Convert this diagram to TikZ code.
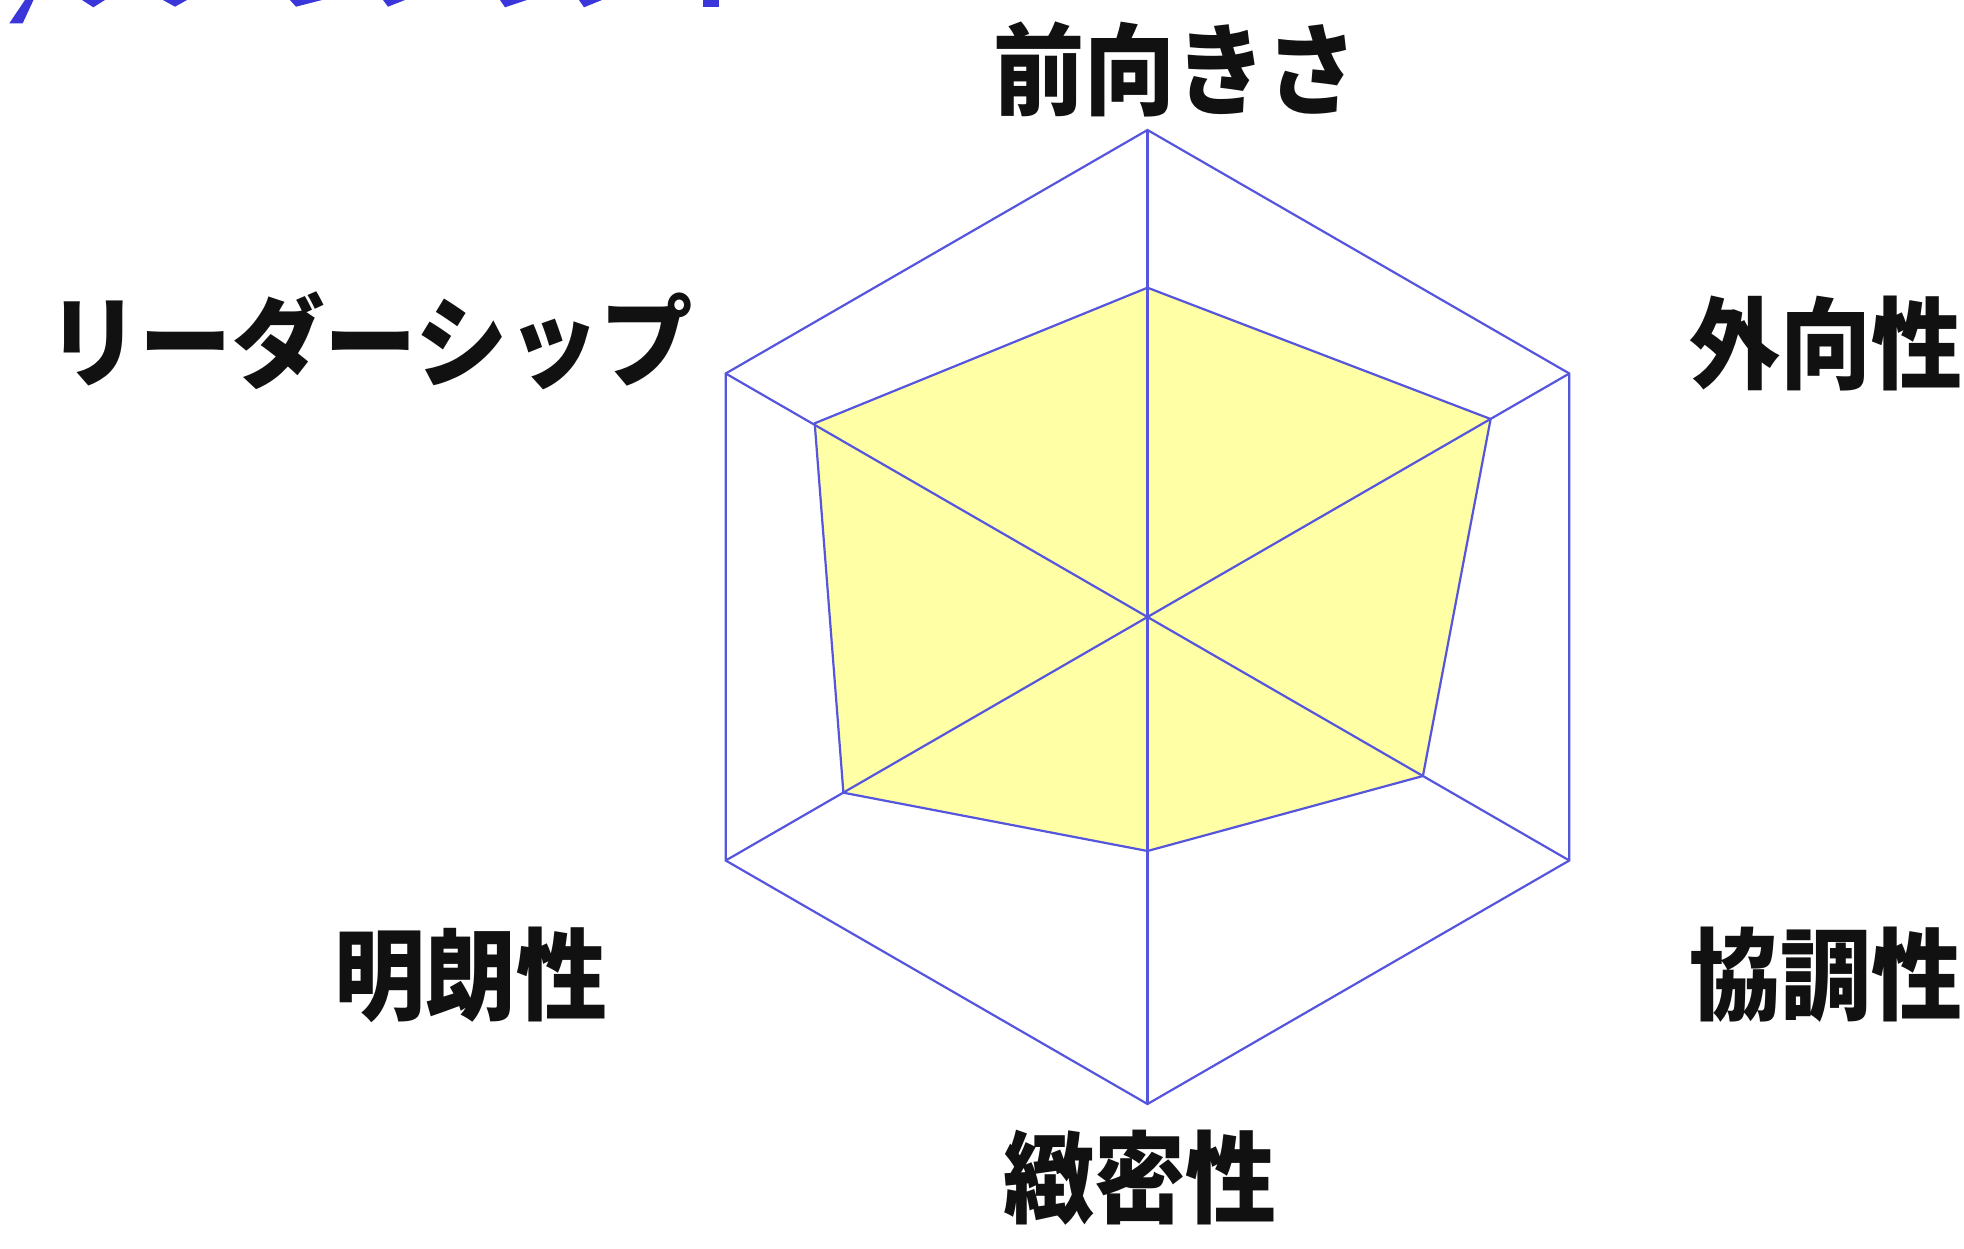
\documentclass[tikz,border=0pt]{standalone}
\usepackage{fontspec}
\newfontfamily\jpfont{Noto Sans CJK JP Black}
\definecolor{gridblue}{HTML}{5555DD}
\definecolor{titleblue}{HTML}{3B36D9}
\definecolor{fillyellow}{HTML}{FFFFA5}
\definecolor{labelblack}{HTML}{111111}
\newcommand{\narrowtext}[2][0.91]{\scalebox{#1}[1]{#2}}
\tikzset{
  axislabel/.style={inner sep=0pt, outer sep=0pt, text=labelblack,
    font=\jpfont\fontsize{100}{100}\selectfont},
  gridline/.style={draw=gridblue, line width=2.2pt, line join=miter},
  datafill/.style={fill=fillyellow},
  titlefrag/.style={fill=titleblue}
}
\begin{document}
\begin{tikzpicture}[x=1pt,y=-1pt]
\useasboundingbox (0,0) rectangle (1964,1249);
% centre and hexagon vertices
\coordinate (C) at (1147.5,617);
\coordinate (V0) at (1147.5,130);
\coordinate (V1) at (1569.3,373.5);
\coordinate (V2) at (1569.3,860.5);
\coordinate (V3) at (1147.5,1104);
\coordinate (V4) at (725.7,860.5);
\coordinate (V5) at (725.7,373.5);
% data points
\coordinate (D0) at (1147.5,287.7);
\coordinate (D1) at (1490.6,419);
\coordinate (D2) at (1422.9,776);
\coordinate (D3) at (1147.5,851);
\coordinate (D4) at (843.4,792.7);
\coordinate (D5) at (814.7,423.3);
% data area
\fill[datafill] (D0) -- (D1) -- (D2) -- (D3) -- (D4) -- (D5) -- cycle;
% grid
\draw[gridline] (V0) -- (V1) -- (V2) -- (V3) -- (V4) -- (V5) -- cycle;
\draw[gridline] (V0) -- (V3);
\draw[gridline] (V1) -- (V4);
\draw[gridline] (V2) -- (V5);
\draw[gridline] (D0) -- (D1) -- (D2) -- (D3) -- (D4) -- (D5) -- cycle;
% labels
\node[axislabel] (l0) at (1175,69) {\narrowtext{前向きさ}};
\node[axislabel] (l1) at (1826,343.5) {\narrowtext{外向性}};
\node[axislabel] (l2) at (1826,975) {\narrowtext{協調性}};
\node[axislabel] (l3) at (1140,1177.5) {\narrowtext{緻密性}};
\node[axislabel] (l4) at (471,975) {\narrowtext{明朗性}};
\node[axislabel] (l5) at (370,340.5) {\narrowtext[0.925]{リーダーシップ}};
% cropped title fragments at the top edge
\fill[titlefrag] (25,0) -- (33.5,0) -- (22.7,23.3) -- (9.3,23.3) -- cycle;
\fill[titlefrag] (82,0) -- (105,0) -- (93.3,7.3) -- cycle;
\fill[titlefrag] (163,0) -- (187,0) -- (175,6.7) -- cycle;
\fill[titlefrag] (290,0) -- (322,0) -- (296,6.7) -- cycle;
\fill[titlefrag] (383,0) -- (405,0) -- (388,6.7) -- cycle;
\fill[titlefrag] (500,0) -- (527,0) -- (505,7.3) -- cycle;
\fill[titlefrag] (579,0) -- (602,0) -- (584,7.3) -- cycle;
\fill[titlefrag] (703,0) rectangle (719,6.7);
\end{tikzpicture}
\end{document}
